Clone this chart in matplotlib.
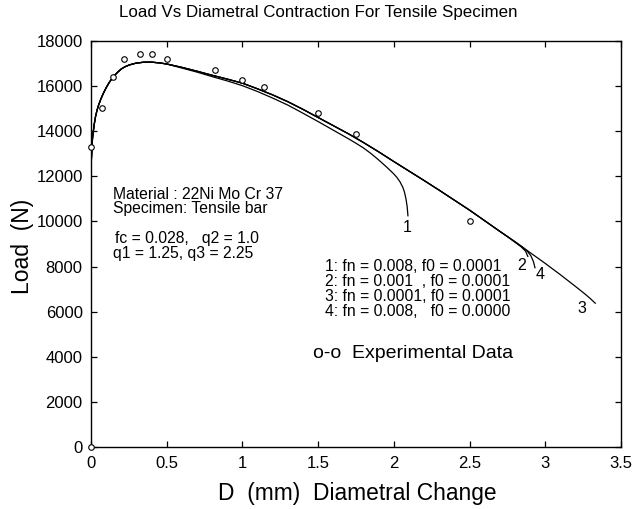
import numpy as np
import matplotlib
matplotlib.use("Agg")
from matplotlib import pyplot as plt

plt.rcParams['font.family'] = ['Liberation Sans', 'DejaVu Sans']

# shared path of the simulated curves (2, 3, 4 overlap up to ~2.7 mm)
main_x = [0, 0.005, 0.01, 0.02, 0.03, 0.04, 0.05, 0.065, 0.08, 0.1, 0.12, 0.14,
          0.16, 0.18, 0.2, 0.225, 0.25, 0.275, 0.3, 0.35, 0.4, 0.45, 0.5, 0.6,
          0.7, 0.8, 0.9, 1.0, 1.1, 1.2, 1.3, 1.4, 1.5, 1.6, 1.7, 1.8, 1.9, 2.0,
          2.1, 2.2, 2.3, 2.4, 2.5, 2.6, 2.7]
main_y = [12400, 13100, 13700, 14250, 14650, 14930, 15150, 15420, 15650, 15920,
          16150, 16340, 16500, 16630, 16750, 16850, 16920, 16970, 17010, 17050,
          17050, 17020, 16970, 16820, 16650, 16470, 16300, 16120, 15870, 15600,
          15300, 14960, 14600, 14240, 13880, 13490, 13080, 12650, 12230, 11810,
          11380, 10940, 10500, 10030, 9560]

# curve 1 splits off below the others after the peak
c1_x = [0.6, 0.7, 0.8, 0.9, 1.0, 1.1, 1.2, 1.3, 1.4, 1.5, 1.6, 1.7, 1.75, 1.8,
        1.85, 1.9, 1.95, 1.98, 2.0, 2.02, 2.04, 2.06, 2.07, 2.08, 2.088, 2.093]
c1_y = [16790, 16610, 16410, 16220, 16010, 15750, 15460, 15150, 14790, 14420,
        14040, 13660, 13460, 13250, 13000, 12720, 12420, 12230, 12100, 11950,
        11760, 11500, 11300, 11000, 10650, 10250]

c2_x = [2.75, 2.8, 2.84, 2.87, 2.885]
c2_y = [9330, 9080, 8880, 8680, 8450]

c3_x = [2.8, 2.9, 3.0, 3.1, 3.2, 3.26, 3.3, 3.33]
c3_y = [9100, 8620, 8140, 7640, 7120, 6800, 6570, 6380]

c4_x = [2.8, 2.85, 2.88, 2.905, 2.922, 2.932]
c4_y = [9100, 8860, 8690, 8480, 8220, 7950]

exp_x = [0, 0, 0.07, 0.147, 0.218, 0.323, 0.405, 0.5, 0.822, 1.0, 1.145, 1.5, 1.75, 2.5]
exp_y = [0, 13300, 15000, 16400, 17200, 17400, 17400, 17200, 16700, 16250, 15950,
         14800, 13850, 10000]

curve_labels = ['1', '2', '4', '3']
label_x = [2.09, 2.843, 2.968, 3.245]
label_y = [9710, 8070, 7671, 6166]

legend_lines = ['1: fn = 0.008, f0 = 0.0001',
                '2: fn = 0.001  , f0 = 0.0001',
                '3: fn = 0.0001, f0 = 0.0001',
                '4: fn = 0.008,   f0 = 0.0000']

fig = plt.figure(figsize=(6.33, 5.09), dpi=100)
ax = fig.add_axes([0.1438, 0.1212, 0.8372, 0.7988])

mx = np.array(main_x)
my = np.array(main_y)
pre = mx < 0.6
ax.plot(np.r_[mx[pre], c1_x], np.r_[my[pre], c1_y], color='black', lw=0.9)
ax.plot(np.r_[mx, c2_x], np.r_[my, c2_y], color='black', lw=0.9)
ax.plot(np.r_[mx, c3_x], np.r_[my, c3_y], color='black', lw=0.9)
ax.plot(np.r_[mx, c4_x], np.r_[my, c4_y], color='black', lw=0.9)

ax.plot(exp_x, exp_y, 'o', mfc='white', mec='black', ms=4, mew=0.8, ls='none',
        clip_on=False, zorder=5)

for t, x, y in zip(curve_labels, label_x, label_y):
    ax.text(x, y, t, fontsize=11.5, ha='center', va='center')

ax.text(0.145, 11170, 'Material : 22Ni Mo Cr 37', fontsize=11.3, va='center')
ax.text(0.145, 10560, 'Specimen: Tensile bar', fontsize=11.3, va='center')
ax.text(0.16, 9250, 'fc = 0.028,   q2 = 1.0', fontsize=11.3, va='center')
ax.text(0.145, 8590, 'q1 = 1.25, q3 = 2.25', fontsize=11.3, va='center')

for i, s in enumerate(legend_lines):
    ax.text(1.544, 7995 - i * 664, s, fontsize=11.3, va='center')

ax.text(1.464, 4175, 'o-o  Experimental Data', fontsize=14, va='center')

ax.set_xlim(0, 3.5)
ax.set_ylim(0, 18000)
ax.set_xticks(np.arange(0, 3.51, 0.5))
ax.set_xticklabels(['0', '0.5', '1', '1.5', '2', '2.5', '3', '3.5'])
ax.set_yticks(np.arange(0, 18001, 2000))
ax.tick_params(direction='in', length=4, width=0.9, top=True, right=True,
               labelsize=12, pad=6)
for sp in ax.spines.values():
    sp.set_linewidth(1.0)

fig.text(0.503, 0.976, 'Load Vs Diametral Contraction For Tensile Specimen',
         fontsize=12.2, ha='center', va='center')
fig.text(0.564, 0.031, 'D  (mm)  Diametral Change', fontsize=16.4, ha='center', va='center')
fig.text(0.035, 0.515, 'Load  (N)', fontsize=16.5, ha='center', va='center', rotation=90)

fig.savefig('out.png', dpi=100)
